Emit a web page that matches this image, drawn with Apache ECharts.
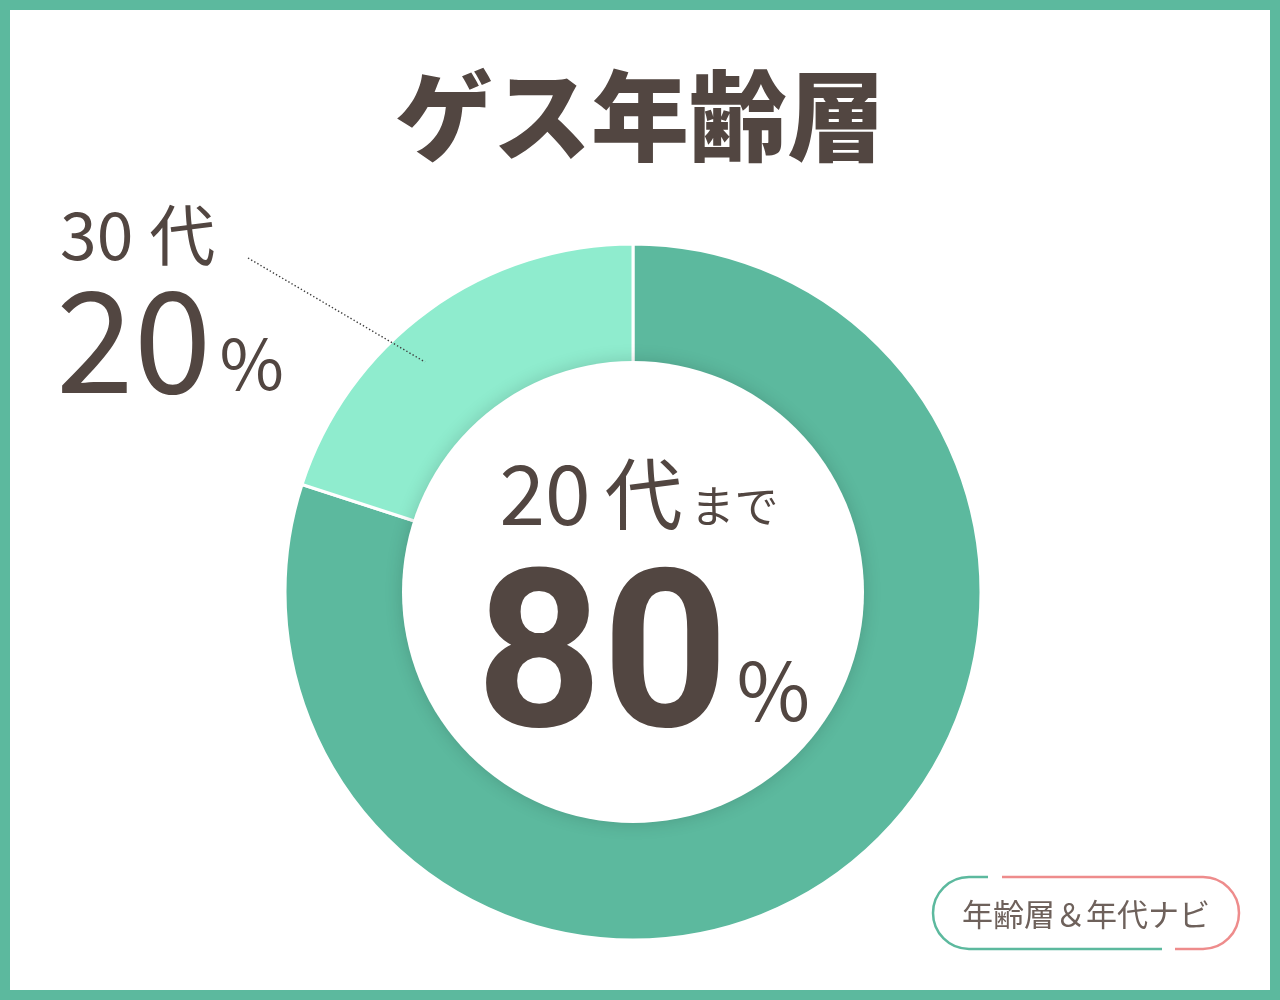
<!DOCTYPE html>
<html>
<head>
<meta charset="utf-8">
<script src="https://cdn.jsdelivr.net/npm/echarts@6/dist/echarts.min.js"></script>
<style>
  html, body { margin: 0; padding: 0; background: #fff; }
  #main { width: 1280px; height: 1000px; }
</style>
</head>
<body>
<div id="main"></div>
<script>
// data
var titleText = 'ゲス年齢層';
var categories = ['20代', '30代'];
var shares = [80, 20];
var suffixes = ['まで', ''];
var sliceColors = ['#5cb99e', '#8fecce'];
var badgeText = '年齢層＆年代ナビ';

var ink = '#524641';
var jp = '"Noto Sans CJK JP", "Noto Sans", sans-serif';
var green = '#5cb99e', pink = '#ee8c8c';

var chart = echarts.init(document.getElementById('main'));

// split "30代" into number + kanji so the kanji can sit a little apart
function num(s) { return s.replace(/[^0-9]/g, ''); }
function kan(s) { return s.replace(/[0-9]/g, ''); }

var ringData = categories.map(function (c, i) {
    return {
        name: c,
        value: shares[i],
        itemStyle: { color: sliceColors[i] },
        label: { show: i === 1 }
    };
});

function seg(x1, y1, x2, y2, col) {
    return { type: 'line', shape: { x1: x1, y1: y1, x2: x2, y2: y2 }, style: { stroke: col, lineWidth: 2.5 } };
}
function half(cx, a0, a1, col) {
    return { type: 'arc', shape: { cx: cx, cy: 913, r: 36, startAngle: a0, endAngle: a1, clockwise: true }, style: { stroke: col, lineWidth: 2.5, fill: null } };
}

var option = {
    backgroundColor: '#fff',
    title: {
        text: titleText,
        left: 'center',
        top: 61,
        textStyle: {
            fontFamily: jp,
            fontSize: 98,
            fontWeight: 900,
            color: ink,
            lineHeight: 100
        }
    },
    graphic: [
        {
            type: 'rect',
            shape: { x: 5, y: 5, width: 1270, height: 990 },
            style: { fill: null, stroke: green, lineWidth: 10 },
            z: 100
        },
        {
            // dotted leader from the 30代 label into its slice
            type: 'polyline',
            shape: { points: [[248, 258], [425, 362]] },
            style: { stroke: '#3d3d3d', lineWidth: 1.4, lineDash: [1.4, 2.2], fill: null },
            z: 50
        },
        seg(969, 877, 988, 877, green),
        half(969, Math.PI / 2, Math.PI * 1.5, green),
        seg(969, 949, 1162, 949, green),
        seg(1002, 877, 1203, 877, pink),
        half(1203, -Math.PI / 2, Math.PI / 2, pink),
        seg(1175, 949, 1203, 949, pink),
        {
            type: 'text',
            x: 1086, y: 914,
            style: {
                text: badgeText,
                fontFamily: jp,
                fontSize: 31,
                fill: '#6e615b',
                align: 'center',
                verticalAlign: 'middle'
            }
        }
    ],
    series: [
        {
            type: 'pie',
            center: [633, 592],
            radius: [0, 348],
            startAngle: 90,
            clockwise: true,
            silent: true,
            itemStyle: { borderColor: '#fff', borderWidth: 3 },
            label: {
                position: 'outside',
                formatter: function (p) {
                    return '{a|' + num(p.name) + '}{k|' + kan(p.name) + '}\n{b|' + p.value + '}{c|%}';
                },
                rich: {
                    a: { fontFamily: jp, fontSize: 66, color: ink, lineHeight: 82, padding: [0, 0, 0, 4] },
                    k: { fontFamily: jp, fontSize: 66, color: ink, lineHeight: 82, padding: [0, 0, 0, 16] },
                    b: { fontFamily: jp, fontSize: 140, color: ink, lineHeight: 128 },
                    c: { fontFamily: jp, fontSize: 70, color: ink, lineHeight: 100, padding: [46, 0, 0, 8] }
                }
            },
            labelLine: { show: false },
            labelLayout: function (p) {
                if (p.dataIndex !== 1) return {};
                return { x: 56, y: 194, align: 'left', verticalAlign: 'top' };
            },
            data: ringData
        },
        {
            // white inner disc carrying the headline share
            type: 'pie',
            center: [633, 592],
            radius: [0, 231],
            silent: true,
            itemStyle: {
                color: '#fff',
                shadowBlur: 18,
                shadowColor: 'rgba(0,0,0,0.16)'
            },
            label: {
                position: 'center',
                formatter: function () {
                    return '{a|' + num(categories[0]) + '}{k|' + kan(categories[0]) + '}{s|' + suffixes[0] + '}\n{b|' + shares[0] + '}{c|%}';
                },
                rich: {
                    a: { fontFamily: jp, fontSize: 82, color: ink, lineHeight: 158, padding: [0, 0, 0, 12] },
                    k: { fontFamily: jp, fontSize: 78, color: ink, lineHeight: 158, padding: [0, 0, 0, 14] },
                    s: { fontFamily: jp, fontSize: 44, color: ink, lineHeight: 158, padding: [24, 0, 0, 8] },
                    b: { fontFamily: 'Roboto, sans-serif', fontWeight: 'bold', fontSize: 220, color: ink, lineHeight: 196, padding: [0, 0, 0, 20] },
                    c: { fontFamily: jp, fontSize: 80, color: ink, lineHeight: 196, padding: [40, 0, 0, 8] }
                }
            },
            labelLine: { show: false },
            data: [{ name: categories[0], value: shares[0] }]
        }
    ]
};

chart.setOption(option);
</script>
</body>
</html>
